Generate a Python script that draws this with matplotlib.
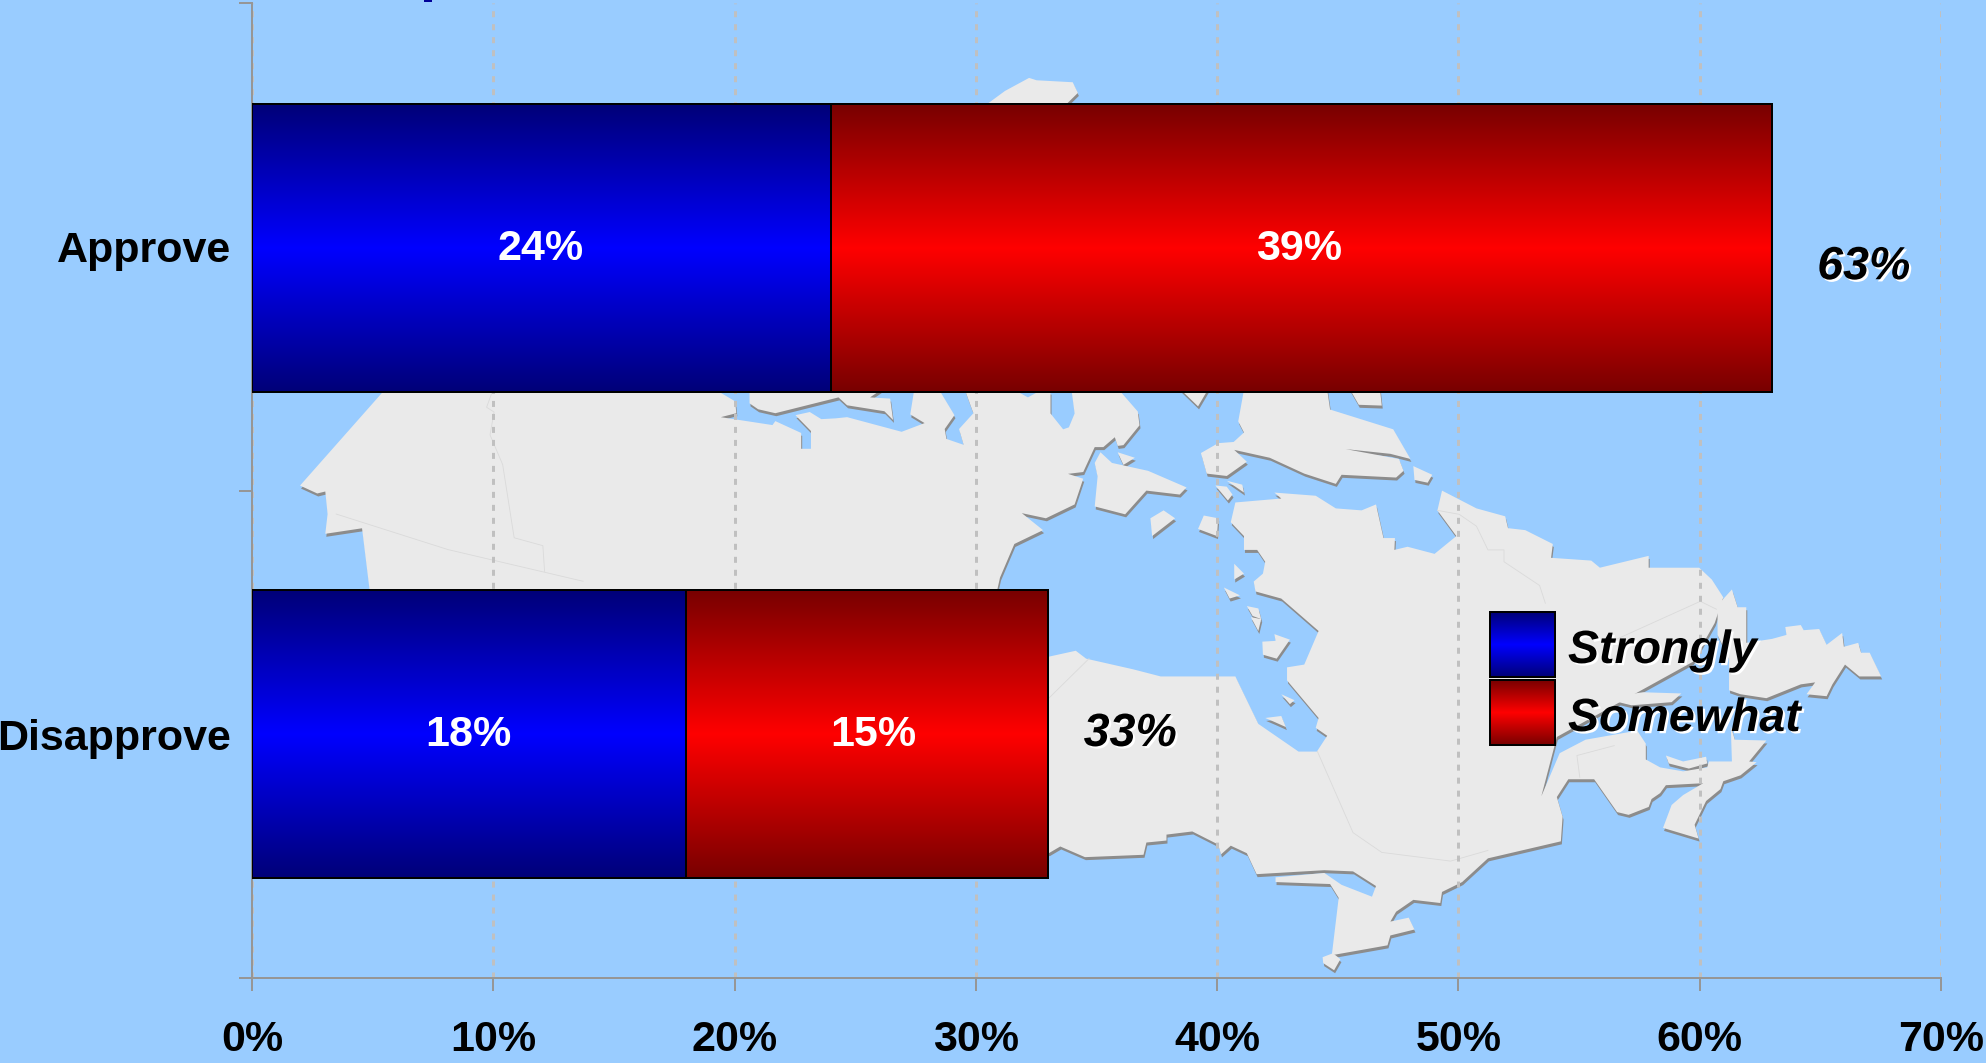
import numpy as np
from matplotlib import pyplot as plt
from matplotlib.colors import LinearSegmentedColormap
from matplotlib.patches import Polygon, Rectangle
import matplotlib.patheffects as pe

plt.rcParams['font.family'] = ['Liberation Sans', 'DejaVu Sans']

# Data
categories = ['Approve', 'Disapprove']
strongly = [24, 18]
somewhat = [39, 15]
totals = [63, 33]
x_ticks = [0, 10, 20, 30, 40, 50, 60, 70]
x_labels = ['0%', '10%', '20%', '30%', '40%', '50%', '60%', '70%']
legend_labels = ['Strongly', 'Somewhat']

W, H = 1986, 1063
SKY = '#99CCFF'
LAND = '#EAEAEA'
SHADOW = '#8C8C8C'
AXIS = '#969696'
GRID = '#C0C0C0'
PX = 0.72  # one pixel in points at dpi 100


# background map, traced in two zoom frames
def A(pts):
    return [(230 + x / 1.742, y / 2.529) for x, y in pts]


def B(pts):
    return [(1000 + x / 1.742, 370 + y / 2.529) for x, y in pts]


mainland = A([(270, 985), (845, 985), (880, 1015), (882, 1045), (855, 1055), (945, 1075),
              (950, 1065), (995, 1095), (995, 1135), (1012, 1135), (1012, 1090), (985, 1050),
              (1010, 1042), (1030, 1060), (1055, 1058), (1075, 1055), (1170, 1092), (1210, 1070),
              (1185, 1048), (1192, 985), (1235, 985), (1262, 1050), (1245, 1085), (1248, 1110),
              (1278, 1125), (1270, 1085), (1295, 1045), (1280, 985), (1365, 985), (1390, 1005),
              (1415, 985)]) + \
    B([(88, 55), (88, 110), (110, 150), (120, 145), (130, 110), (125, 55), (210, 55),
       (240, 105), (243, 140), (215, 190), (205, 192), (200, 170), (180, 195), (165, 195),
       (145, 258), (105, 265), (70, 240), (145, 275), (130, 340), (80, 375), (38, 362),
       (75, 405), (25, 440), (0, 525), (-10, 590), (60, 650), (85, 725), (132, 710),
       (150, 730), (232, 757), (280, 775), (410, 775), (450, 895), (520, 965), (552, 965),
       (570, 925), (550, 905), (555, 880), (500, 785), (500, 752), (530, 745), (555, 660),
       (490, 578), (445, 560), (442, 535), (458, 515), (462, 485), (448, 455), (425, 455),
       (425, 420), (402, 385), (410, 335), (490, 325), (478, 310), (550, 318), (585, 350),
       (630, 355), (655, 340), (668, 425), (688, 425), (687, 455), (710, 447), (757, 465),
       (795, 420), (762, 355), (770, 305), (830, 350), (880, 370), (885, 400), (915, 405),
       (963, 440), (960, 475), (1030, 482), (1045, 500), (1130, 470), (1130, 500),
       (1218, 500), (1240, 530), (1260, 575), (1245, 640), (1207, 738), (970, 928),
       (943, 1078), (975, 969), (1020, 935), (1110, 912), (1125, 945), (1125, 985),
       (1150, 1005), (1190, 1015), (1232, 1005), (1235, 990), (1275, 990), (1273, 900),
       (1280, 935), (1335, 937), (1305, 990), (1318, 992), (1290, 1025), (1260, 1040),
       (1255, 1060), (1230, 1090), (1210, 1150), (1217, 1185), (1155, 1158), (1170, 1100),
       (1190, 1075), (1225, 1045), (1160, 1050), (1150, 1070), (1135, 1085), (1130, 1105),
       (1095, 1125), (1075, 1118), (1035, 1035), (990, 1035), (970, 1080), (980, 1130),
       (977, 1192), (850, 1235), (805, 1295), (770, 1320), (767, 1348), (720, 1340),
       (690, 1370), (680, 1395), (712, 1385), (722, 1415), (680, 1430), (675, 1455),
       (578, 1480), (590, 1335), (575, 1300), (480, 1295), (480, 1283), (565, 1272),
       (595, 1302), (648, 1332), (655, 1305), (615, 1268), (565, 1265), (447, 1275),
       (430, 1222), (402, 1203), (385, 1225), (380, 1200), (335, 1167), (290, 1175),
       (290, 1190), (255, 1195), (250, 1226), (148, 1232), (105, 1205), (85, 1222)]) + \
    A([(243, 1490), (230, 1336), (166, 1350), (170, 1300), (166, 1243), (152, 1248), (122, 1228)])

islands = [
    A([(1320, 262), (1350, 230), (1392, 197), (1405, 203), (1468, 208), (1477, 235), (1458, 262)]),
    A([(905, 985), (905, 1020), (920, 1035), (950, 1045), (1060, 1005), (1075, 1025), (1140, 1040),
       (1155, 1062), (1150, 1008), (1115, 1005), (1135, 985)]),
    B([(315, 50), (345, 92), (362, 50)]),
    B([(425, 50), (415, 130), (425, 158), (407, 182), (380, 185), (350, 210), (360, 262), (395, 268),
       (430, 232), (408, 202), (470, 222), (530, 262), (585, 288), (595, 265), (690, 272), (703, 255),
       (695, 225), (602, 200), (680, 212), (715, 225), (685, 150), (575, 100), (570, 50)]),
    B([(610, 50), (625, 88), (665, 90), (662, 50)]),
    B([(720, 243), (753, 265), (745, 285), (722, 278)]),
    B([(165, 345), (170, 270), (165, 235), (175, 208), (195, 235), (258, 255), (325, 297), (313, 315),
       (255, 305), (218, 365)]),
    B([(205, 208), (235, 222), (215, 240)]),
    B([(262, 375), (285, 355), (305, 375), (265, 420)]),
    B([(355, 368), (380, 375), (378, 420), (345, 402)]),
    B([(375, 292), (395, 295), (405, 315), (397, 330)]),
    B([(395, 280), (422, 290), (425, 310)]),
    B([(408, 490), (425, 515), (408, 530)]),
    B([(390, 550), (418, 570), (400, 578)]),
    B([(430, 597), (450, 603), (455, 630), (440, 622)]),
    B([(437, 625), (455, 630), (450, 660)]),
    B([(457, 687), (480, 685), (478, 668), (505, 682), (482, 730), (458, 720)]),
    B([(490, 820), (513, 835), (505, 845)]),
    B([(462, 880), (490, 875), (498, 903), (478, 890)]),
    B([(562, 1485), (580, 1475), (593, 1490), (582, 1518), (563, 1500)]),
    B([(1050, 830), (1120, 815), (1187, 818), (1170, 840), (1100, 848)]),
    B([(1160, 975), (1190, 990), (1230, 978), (1232, 995), (1200, 1008), (1165, 995)]),
    B([(1250, 640), (1250, 595), (1275, 555), (1285, 600), (1300, 600), (1300, 690), (1345, 680),
       (1370, 670), (1368, 650), (1395, 645), (1400, 658), (1427, 655), (1440, 695), (1467, 665),
       (1470, 700), (1495, 690), (1500, 715), (1515, 715), (1535, 775), (1497, 775), (1472, 745),
       (1450, 795), (1440, 825), (1405, 820), (1420, 790), (1395, 795), (1335, 830), (1290, 820),
       (1270, 810), (1270, 730), (1250, 670)]),
]

borders = [
    A([(457, 990), (447, 1030), (460, 1042), (453, 1100), (475, 1175), (495, 1360), (545, 1380), (548, 1445)]),
    A([(185, 1300), (380, 1390), (615, 1470)]),
    B([(762, 355), (800, 365), (830, 395), (850, 455), (878, 455), (878, 485), (940, 545), (950, 590)]),
    B([(1248, 605), (1220, 585), (1060, 690)]),
    B([(553, 965), (615, 1170), (665, 1220), (785, 1242), (850, 1215)]),
    B([(1070, 950), (1005, 975), (1010, 1030)]),
    B([(85, 830), (155, 730)]),
]

fig = plt.figure(figsize=(W / 100, H / 100), dpi=100, facecolor=SKY)

bg = fig.add_axes([0, 0, 1, 1], zorder=0)
bg.set_xlim(0, W)
bg.set_ylim(H, 0)
bg.axis('off')
for poly in [mainland] + islands:
    shifted = [(x + 1, y + 3) for x, y in poly]
    bg.add_patch(Polygon(shifted, closed=True, facecolor=SHADOW, edgecolor='none'))
for poly in [mainland] + islands:
    bg.add_patch(Polygon(poly, closed=True, facecolor=LAND, edgecolor='none'))
for line in borders:
    bg.plot([p[0] for p in line], [p[1] for p in line], color='#DADADA', lw=0.6)
bg.add_patch(Rectangle((424, 0), 8, 2, facecolor='#000099', edgecolor='none'))

# chart
ax = fig.add_axes([252 / W, 1 - 978 / H, 1689 / W, 975 / H], zorder=1)
ax.patch.set_visible(False)
ax.set_xlim(0, 70)
ax.set_ylim(2, 0)
centers = [0.502, 1.4995]

blues = LinearSegmentedColormap.from_list('b', ['#000078', '#0000FF', '#000078'])
reds = LinearSegmentedColormap.from_list('r', ['#780000', '#FF0000', '#780000'])
grad = np.linspace(0, 1, 256).reshape(-1, 1)


def gradient_bars(values, lefts, cmap):
    bars = ax.barh(centers, values, left=lefts, height=0.59, facecolor='none',
                   edgecolor='black', linewidth=2 * PX, zorder=4)
    for bar in bars:
        im = ax.imshow(grad, cmap=cmap, aspect='auto', zorder=3, vmin=0, vmax=1,
                       extent=[bar.get_x(), bar.get_x() + bar.get_width(),
                               bar.get_y() + bar.get_height(), bar.get_y()])
        im.set_clip_path(bar)
    return bars


gradient_bars(strongly, 0, blues)
gradient_bars(somewhat, strongly, reds)
ax.set_xlim(0, 70)
ax.set_ylim(2, 0)

ax.set_axisbelow(True)
ax.grid(axis='x', color=GRID, linewidth=3 * PX, linestyle=(0, (2, 2.33)), zorder=1)
for s in ['top', 'right']:
    ax.spines[s].set_visible(False)
for s in ['left', 'bottom']:
    ax.spines[s].set_color(AXIS)
    ax.spines[s].set_linewidth(2 * PX)

ax.set_xticks(x_ticks, x_labels, fontsize=31, fontweight='bold')
ax.set_yticks([0, 1, 2], ['', '', ''])
ax.set_yticks([0.5, 1.5], categories, minor=True, fontsize=31, fontweight='bold')
ax.tick_params(axis='both', which='major', color=AXIS, width=2 * PX, length=13 * PX)
ax.tick_params(axis='x', which='major', pad=21)
ax.tick_params(axis='y', which='minor', length=0, pad=15)

strong_dx = [-0.05, -0.05]
some_dx = [-0.1, 0.27]
for i, y in enumerate(centers):
    ax.text(strongly[i] / 2 + strong_dx[i], y + 0.002, f'{strongly[i]}%', color='white', fontsize=31,
            fontweight='bold', ha='center', va='center', zorder=5)
    ax.text(strongly[i] + somewhat[i] / 2 + some_dx[i], y + 0.002, f'{somewhat[i]}%', color='white',
            fontsize=31, fontweight='bold', ha='center', va='center', zorder=5)

# totals sit off the bar ends, with a white drop shadow
shadow = [pe.withSimplePatchShadow(offset=(1.6, -1.6), shadow_rgbFace='white', alpha=1)]
total_dx = [3.8, 3.4]
total_dy = [0.04, 0]
for i, y in enumerate(centers):
    ax.text(totals[i] + total_dx[i], y + total_dy[i], f'{totals[i]}%', color='black', fontsize=33.5,
            fontweight='bold', fontstyle='italic', ha='center', va='center', zorder=5,
            path_effects=shadow)

# legend
top = fig.add_axes([0, 0, 1, 1], zorder=2)
top.patch.set_visible(False)
top.axis('off')
top.set_xlim(0, W)
top.set_ylim(H, 0)
swatch_y = [612, 680]
text_y = [651, 719]
for label, sy, ty, cmap in zip(legend_labels, swatch_y, text_y, [blues, reds]):
    top.imshow(grad, cmap=cmap, aspect='auto', vmin=0, vmax=1, extent=[1490, 1555, sy + 65, sy])
    top.add_patch(Rectangle((1490, sy), 65, 65, facecolor='none', edgecolor='black', linewidth=2 * PX))
    top.text(1568, ty, label, color='black', fontsize=33.5, fontweight='bold', fontstyle='italic',
             ha='left', va='center', path_effects=shadow)
top.set_xlim(0, W)
top.set_ylim(H, 0)

fig.savefig('out.png', dpi=100, facecolor=SKY)
